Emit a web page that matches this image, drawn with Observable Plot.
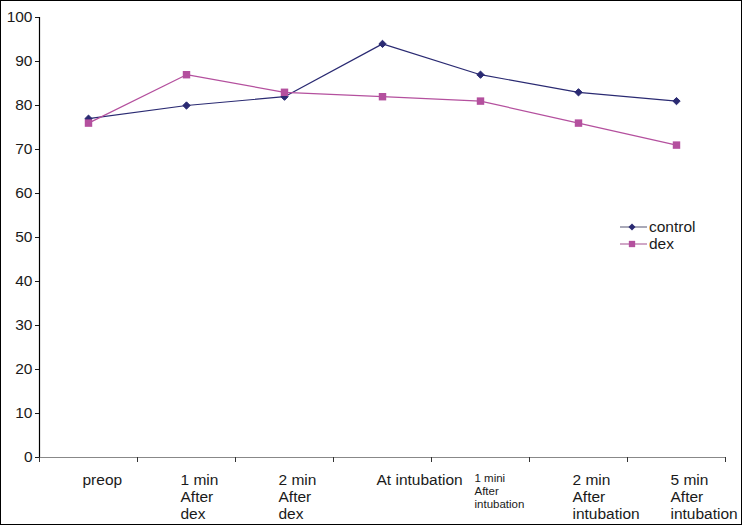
<!DOCTYPE html>
<html><head><meta charset="utf-8">
<script src="https://cdn.jsdelivr.net/npm/d3@7"></script>
<script src="https://cdn.jsdelivr.net/npm/@observablehq/plot@0.6"></script>
<style>
body{margin:0;background:#fff;font-family:"Liberation Sans",Arial,sans-serif;}
#chart{position:relative;width:742px;height:525px;}
svg{outline:1px solid #000;outline-offset:-1px;}
</style></head>
<body><div id="chart"></div>
<script>
const categories = ["preop","1 min\nAfter\ndex","2 min\nAfter\ndex","At intubation","1 mini\nAfter\nintubation","2 min\nAfter\nintubation","5 min\nAfter\nintubation"];
const smallLabel = [false,false,false,false,true,false,false];
const control = [77,80,82,94,87,83,81];
const dex = [76,87,83,82,81,76,71];
const yTicks = [0,10,20,30,40,50,60,70,80,90,100];
const seriesNames = ["control","dex"];
const colors = ["#2a2a72","#b4509e"];

const data = [];
categories.forEach((c,i)=>{
  data.push({i, series:"control", v:control[i]});
  data.push({i, series:"dex", v:dex[i]});
});
const idx = categories.map((c,i)=>i);
const bounds = d3.range(-0.5, categories.length, 1);

const plot = Plot.plot({
  width:742, height:525,
  marginLeft:39, marginRight:17, marginTop:17, marginBottom:68,
  style:{fontFamily:"Liberation Sans, Arial, sans-serif", background:"#fff"},
  x:{type:"linear", domain:[-0.5, categories.length-0.5], axis:null},
  y:{domain:[0,100], axis:null},
  color:{domain:seriesNames, range:colors},
  marks:[
    Plot.axisY({ticks:yTicks, tickSize:4, tickPadding:3, fontSize:15.5, label:null, color:"#1a1a1a", tickFormat:d=>String(d)}),
    Plot.ruleY([0], {stroke:"#888", strokeWidth:1.2}),
    Plot.axisX({ticks:bounds, tickSize:5, tickFormat:()=>"", label:null, stroke:"#333"}),
    Plot.ruleX([-0.5], {stroke:"#000", strokeWidth:1.2}),
    Plot.text(idx.filter(i=>!smallLabel[i]), {x:d=>d, y:()=>0, text:d=>categories[d], textAnchor:"start", lineAnchor:"top", dx:-6, dy:15, fontSize:15.5, lineHeight:1.1, fill:"#1a1a1a"}),
    Plot.text(idx.filter(i=>smallLabel[i]), {x:d=>d, y:()=>0, text:d=>categories[d], textAnchor:"start", lineAnchor:"top", dx:-6, dy:16, fontSize:11.5, lineHeight:1.1, fill:"#1a1a1a"}),
    Plot.line(data, {x:"i", y:"v", z:"series", stroke:"series", strokeWidth:1.2}),
    Plot.dot(data.filter(d=>d.series==="control"), {x:"i", y:"v", symbol:"diamond2", r:3.3, fill:colors[0], stroke:colors[0], strokeWidth:1}),
    Plot.dot(data.filter(d=>d.series==="dex"), {x:"i", y:"v", symbol:"square", r:4.2, fill:colors[1], stroke:"none"})
  ]
});
document.getElementById("chart").appendChild(plot);

// legend
const svg = d3.select(plot);
const lg = svg.append("g").attr("font-family","Liberation Sans, Arial, sans-serif").attr("font-size",15.5).attr("text-anchor","start");
seriesNames.forEach((name,k)=>{
  const y = 227 + k*17;
  const g = lg.append("g").attr("transform",`translate(620,${y})`);
  g.append("line").attr("x1",0).attr("x2",27).attr("y1",0).attr("y2",0).attr("stroke",k===0?"#8c8ca0":"#c08ab4").attr("stroke-width",1.5);
  const sym = k===0 ? d3.symbol(d3.symbolDiamond2, 32) : d3.symbol(d3.symbolSquare, 40);
  g.append("path").attr("d",sym()).attr("transform","translate(12,0)").attr("fill",colors[k]);
  g.append("text").attr("x",29).attr("y",0).attr("dy","0.35em").attr("fill","#1a1a1a").text(name);
});
</script>
</body></html>
